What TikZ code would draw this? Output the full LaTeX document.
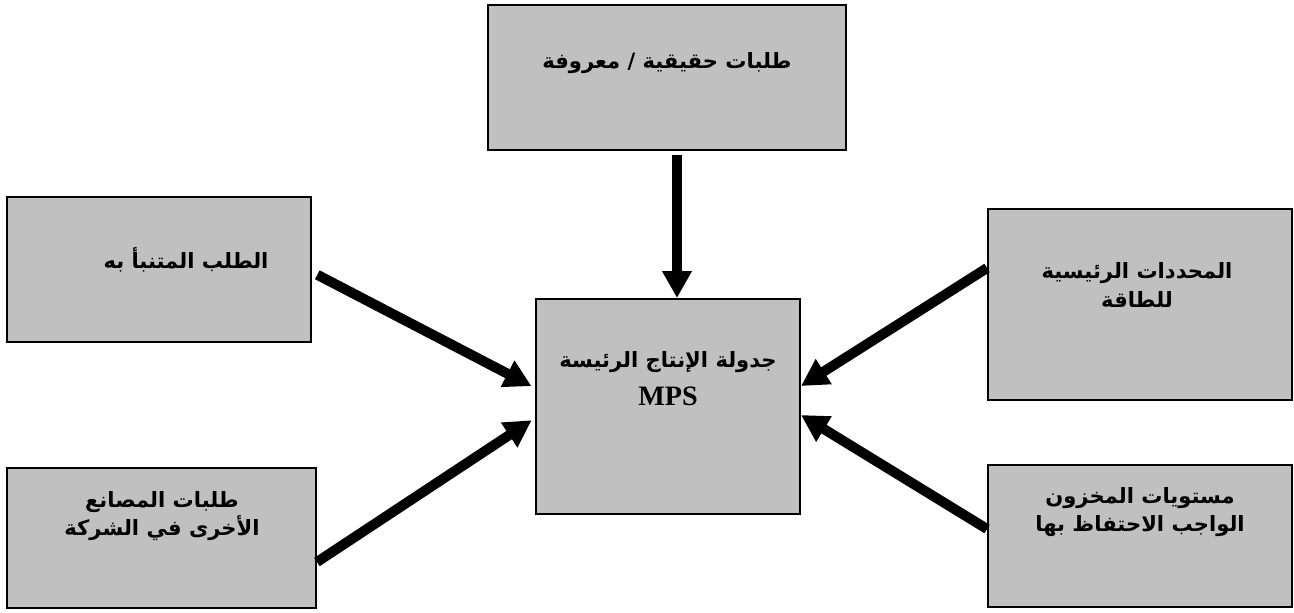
\documentclass[tikz,border=0pt]{standalone}
\usepackage{fontspec}
\setmainfont{Liberation Serif}
\newfontfamily\arabicfont[Script=Arabic]{DejaVu Sans}
\TeXXeTstate=1
\usetikzlibrary{arrows.meta}
\definecolor{boxgray}{RGB}{192,192,192}

\begin{document}
\begin{tikzpicture}[x=0.02cm, y=-0.02cm,
  box/.style={draw=black, fill=boxgray, line width=1.1pt, inner sep=0pt},
  lbl/.style={font=\arabicfont\bfseries\fontsize{12}{16}\selectfont, align=center, inner sep=0pt},
  flow/.style={line width=0.2cm, -{Triangle[length=0.54cm, width=0.56cm]}}]
\def\u{0.02cm}
\useasboundingbox (0,0) rectangle (1294,612);

% the six boxes
\node[box, minimum width=358*\u, minimum height=145*\u] (known) at (667,77.5) {};
\node[box, minimum width=304*\u, minimum height=145*\u] (fcst) at (159,269.5) {};
\node[box, minimum width=309*\u, minimum height=140*\u] (plants) at (161.5,538) {};
\node[box, minimum width=264*\u, minimum height=215*\u] (mps) at (668,406.5) {};
\node[box, minimum width=304*\u, minimum height=191*\u] (cap) at (1140,304.5) {};
\node[box, minimum width=304*\u, minimum height=142*\u] (inv) at (1140,536) {};

% texts
\node[lbl] (knownT) at (667,63) {\beginR طلبات حقيقية / معروفة\endR};
\node[lbl] (fcstT) at (186,260) {\beginR الطلب المتنبأ به\endR};
\node[lbl] (plantsT) at (162,516) {\beginR طلبات المصانع\endR\\ \beginR الأخرى  في الشركة\endR};
\node[lbl, font=\arabicfont\bfseries\fontsize{12}{21.5}\selectfont] (mpsT) at (668,379)
  {\beginR جدولة الإنتاج الرئيسة\endR\\ {\rmfamily\bfseries\fontsize{16}{18}\selectfont MPS}};
\node[lbl] (capT) at (1137,285) {\beginR المحددات الرئيسية\endR\\ \beginR للطاقة\endR};
\node[lbl] (invT) at (1140,512) {\beginR مستويات المخزون\endR\\ \beginR الواجب الاحتفاظ بها\endR};

% arrows into the MPS box
\draw[flow, shorten <=0.08cm] (known.south -| 677,0) -- (mps.north -| 677,0);
\draw[flow, shorten <=0.12cm, shorten >=0.08cm] (fcst.east |- 0,272) -- (mps.west |- 0,388);
\draw[flow, shorten >=0.08cm] (plants.east |- 0,562) -- (mps.west |- 0,418);
\draw[flow] (cap.west |- 0,268) -- (mps.east |- 0,386);
\draw[flow] (inv.west |- 0,529) -- (mps.east |- 0,415);

\end{tikzpicture}
\end{document}
